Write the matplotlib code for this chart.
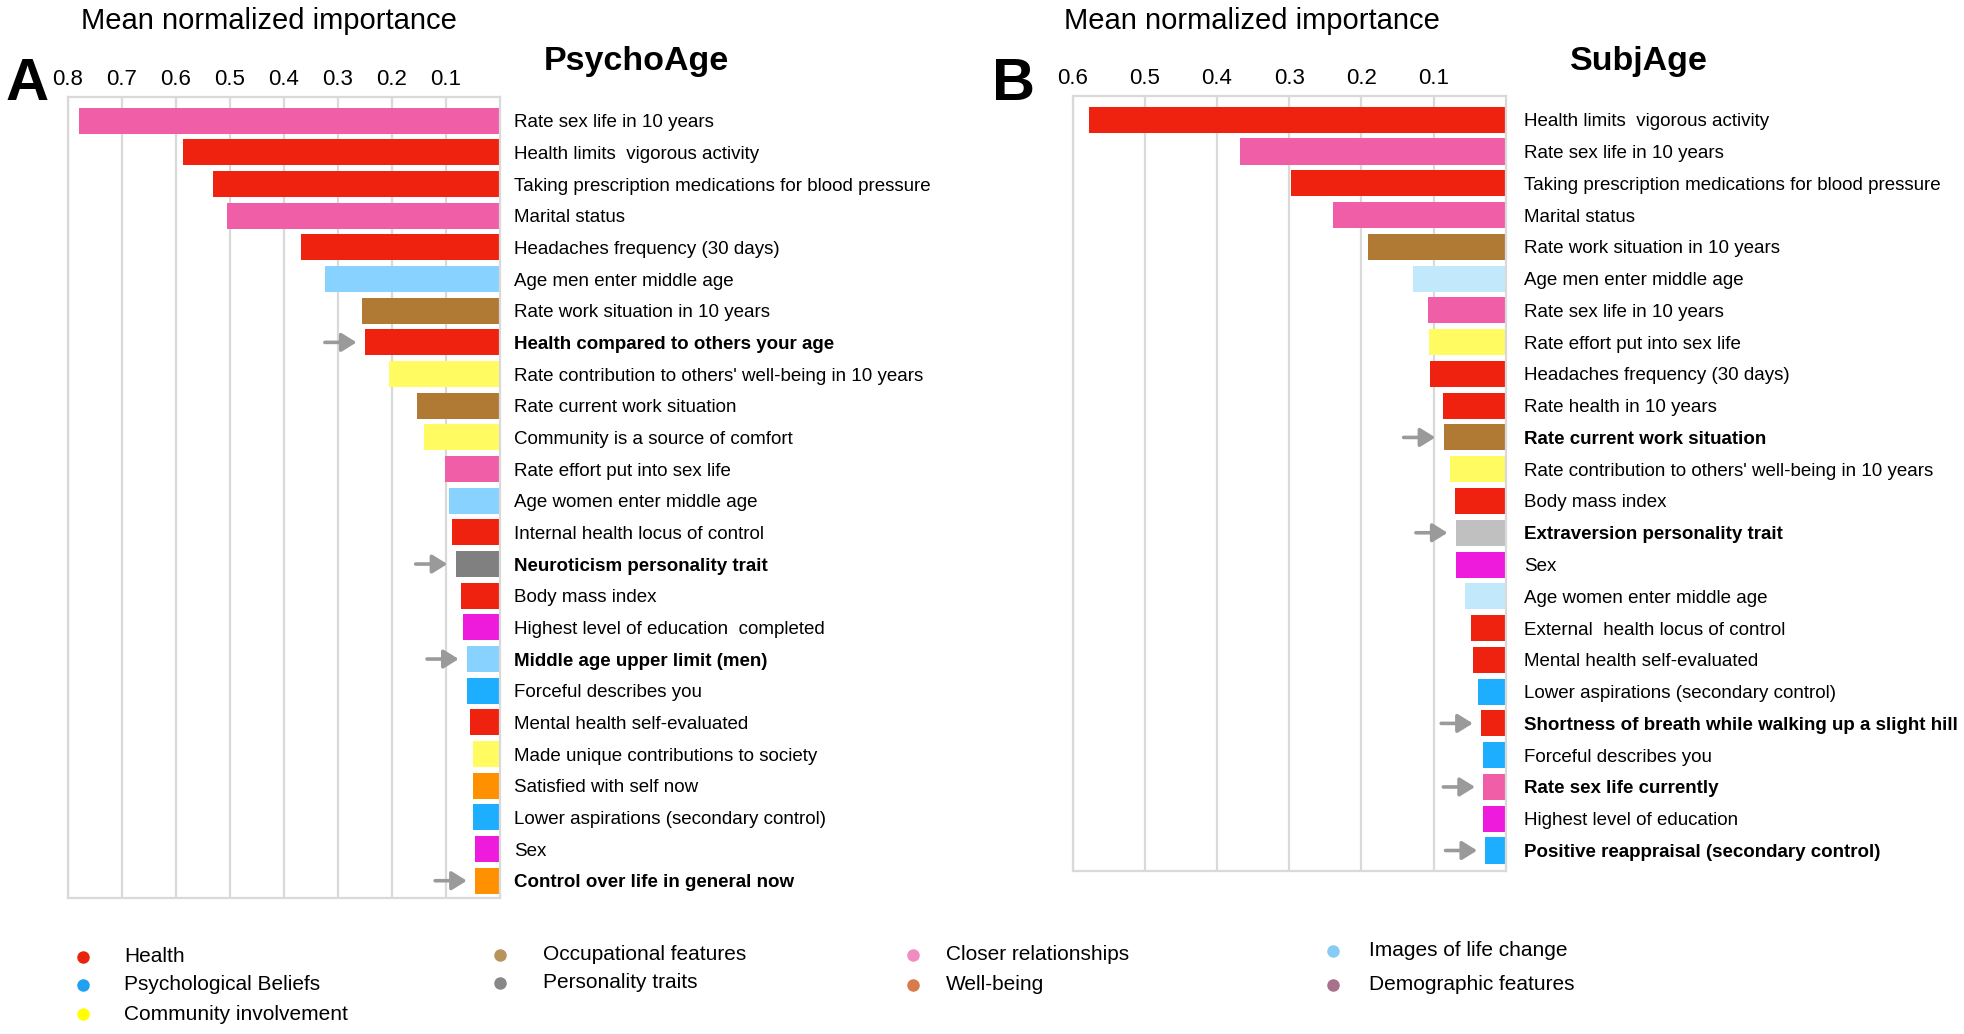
import matplotlib
matplotlib.use("Agg")
import matplotlib.pyplot as plt
from matplotlib.lines import Line2D

plt.rcParams['font.family'] = ['Liberation Sans', 'DejaVu Sans']

# ---------------- data ----------------
psycho_labels = [
    "Rate sex life in 10 years",
    "Health limits  vigorous activity",
    "Taking prescription medications for blood pressure",
    "Marital status",
    "Headaches frequency (30 days)",
    "Age men enter middle age",
    "Rate work situation in 10 years",
    "Health compared to others your age",
    "Rate contribution to others' well-being in 10 years",
    "Rate current work situation",
    "Community is a source of comfort",
    "Rate effort put into sex life",
    "Age women enter middle age",
    "Internal health locus of control",
    "Neuroticism personality trait",
    "Body mass index",
    "Highest level of education  completed",
    "Middle age upper limit (men)",
    "Forceful describes you",
    "Mental health self-evaluated",
    "Made unique contributions to society",
    "Satisfied with self now",
    "Lower aspirations (secondary control)",
    "Sex",
    "Control over life in general now",
]
psycho_values = [0.780, 0.587, 0.531, 0.506, 0.368, 0.323, 0.255, 0.250, 0.205,
                 0.153, 0.141, 0.101, 0.095, 0.089, 0.082, 0.073, 0.068, 0.061,
                 0.061, 0.055, 0.050, 0.050, 0.050, 0.046, 0.046]
psycho_groups = ["rel", "health", "health", "rel", "health", "image", "occ",
                 "health", "comm", "occ", "comm", "rel", "image", "health",
                 "pers", "health", "demo", "image", "psych", "health", "comm",
                 "well", "psych", "demo", "well"]
psycho_bold = [7, 14, 17, 24]

subj_labels = [
    "Health limits  vigorous activity",
    "Rate sex life in 10 years",
    "Taking prescription medications for blood pressure",
    "Marital status",
    "Rate work situation in 10 years",
    "Age men enter middle age",
    "Rate sex life in 10 years",
    "Rate effort put into sex life",
    "Headaches frequency (30 days)",
    "Rate health in 10 years",
    "Rate current work situation",
    "Rate contribution to others' well-being in 10 years",
    "Body mass index",
    "Extraversion personality trait",
    "Sex",
    "Age women enter middle age",
    "External  health locus of control",
    "Mental health self-evaluated",
    "Lower aspirations (secondary control)",
    "Shortness of breath while walking up a slight hill",
    "Forceful describes you",
    "Rate sex life currently",
    "Highest level of education",
    "Positive reappraisal (secondary control)",
]
subj_values = [0.577, 0.368, 0.297, 0.239, 0.191, 0.128, 0.108, 0.106, 0.105,
               0.087, 0.086, 0.077, 0.070, 0.069, 0.069, 0.056, 0.048, 0.045,
               0.039, 0.034, 0.032, 0.031, 0.031, 0.028]
subj_groups = ["health", "rel", "health", "rel", "occ", "image", "rel", "comm",
               "health", "health", "occ", "comm", "health", "pers", "demo",
               "image", "health", "health", "psych", "health", "psych", "rel",
               "demo", "psych"]
subj_bold = [10, 13, 19, 21, 23]

psycho_ticks = [0.1, 0.2, 0.3, 0.4, 0.5, 0.6, 0.7, 0.8]
subj_ticks = [0.1, 0.2, 0.3, 0.4, 0.5, 0.6]

legend_labels = ["Health", "Psychological Beliefs", "Community involvement",
                 "Occupational features", "Personality traits",
                 "Closer relationships", "Well-being",
                 "Images of life change", "Demographic features"]

# ---------------- style ----------------
bar_colors_A = {"health": "#EE220E", "rel": "#F05EA8", "image": "#88D2FF",
                "occ": "#B07A34", "comm": "#FFFB60", "pers": "#808080",
                "demo": "#EE1ADC", "psych": "#1EAEFF", "well": "#FF9000"}
bar_colors_B = dict(bar_colors_A)
bar_colors_B.update({"image": "#C2E8FC", "pers": "#C0C0C0"})
legend_colors = ["#E8230E", "#1FA0F0", "#FFFF00", "#B8935E", "#888888",
                 "#F08CC0", "#D97A4A", "#88CCF5", "#A8708A"]
legend_pos = [(83, 124, 957), (83, 124, 985), (83, 124, 1014),
              (500, 543, 955), (500, 543, 983),
              (913, 946, 955), (913, 946, 985),
              (1333, 1369, 951), (1333, 1369, 985)]

W, H = 1965, 1034
fig = plt.figure(figsize=(W / 100, H / 100), dpi=100)


def fx(x):
    return x / W


def fy(y):
    return 1 - y / H


GRID = "#D9D9D9"


def panel(rect, labels, values, groups, bold, ticks, colors, ylim, xmax, pad):
    ax = fig.add_axes(rect)
    n = len(labels)
    ypos = list(range(n))
    ax.barh(ypos, values, height=0.82, color=[colors[g] for g in groups],
            edgecolor="none", zorder=2)
    ax.set_xlim(xmax, 0)
    ax.set_ylim(*ylim)
    ax.set_xticks(ticks)
    ax.set_xticklabels(["%.1f" % t for t in ticks])
    ax.xaxis.tick_top()
    ax.tick_params(axis="x", length=0, pad=5, labelsize=16)
    ax.grid(axis="x", color=GRID, lw=1.6, zorder=1)
    ax.set_yticks(ypos)
    ax.set_yticklabels(labels)
    ax.yaxis.tick_right()
    ax.tick_params(axis="y", length=0, pad=pad, labelsize=13.5)
    for i, t in enumerate(ax.get_yticklabels()):
        if i in bold:
            t.set_fontweight("bold")
    for s in ax.spines.values():
        s.set_color(GRID)
        s.set_linewidth(1.6)
    for i in bold:
        ax.annotate("", xy=(values[i], i), xycoords="data",
                    xytext=(-40, 0), textcoords="offset pixels",
                    arrowprops=dict(arrowstyle="-|>,head_length=0.45,head_width=0.28",
                                    mutation_scale=20, color="#9A9A9A", lw=2.6,
                                    shrinkA=0, shrinkB=6))
    return ax


axA = panel([fx(67.7), fy(898), fx(500) - fx(67.7), fy(96.7) - fy(898)],
            psycho_labels, psycho_values, psycho_groups, psycho_bold,
            psycho_ticks, bar_colors_A, (24.546, -0.758), 0.8, 10)
axB = panel([fx(1072.7), fy(871), fx(1505.7) - fx(1072.7), fy(96) - fy(871)],
            subj_labels, subj_values, subj_groups, subj_bold,
            subj_ticks, bar_colors_B, (23.645, -0.746), 0.6, 13)

# titles and headers
fig.text(fx(269), fy(29), "Mean normalized importance", ha="center",
         va="baseline", fontsize=21)
fig.text(fx(1252), fy(29), "Mean normalized importance", ha="center",
         va="baseline", fontsize=21)
fig.text(fx(636), fy(70), "PsychoAge", ha="center", va="baseline",
         fontsize=24.5, fontweight="bold")
fig.text(fx(1639), fy(70), "SubjAge", ha="center", va="baseline",
         fontsize=24.5, fontweight="bold")
fig.text(fx(6), fy(100), "A", ha="left", va="baseline", fontsize=43,
         fontweight="bold")
fig.text(fx(992), fy(100), "B", ha="left", va="baseline", fontsize=43,
         fontweight="bold")

# legend
for lab, col, (mx, tx, y) in zip(legend_labels, legend_colors, legend_pos):
    fig.add_artist(Line2D([fx(mx)], [fy(y)], marker="o", markersize=9,
                          color=col, markeredgecolor="none",
                          transform=fig.transFigure))
    fig.text(fx(tx), fy(y), lab, ha="left", va="center", fontsize=15)

fig.savefig("out.png", dpi=100, facecolor="white")
